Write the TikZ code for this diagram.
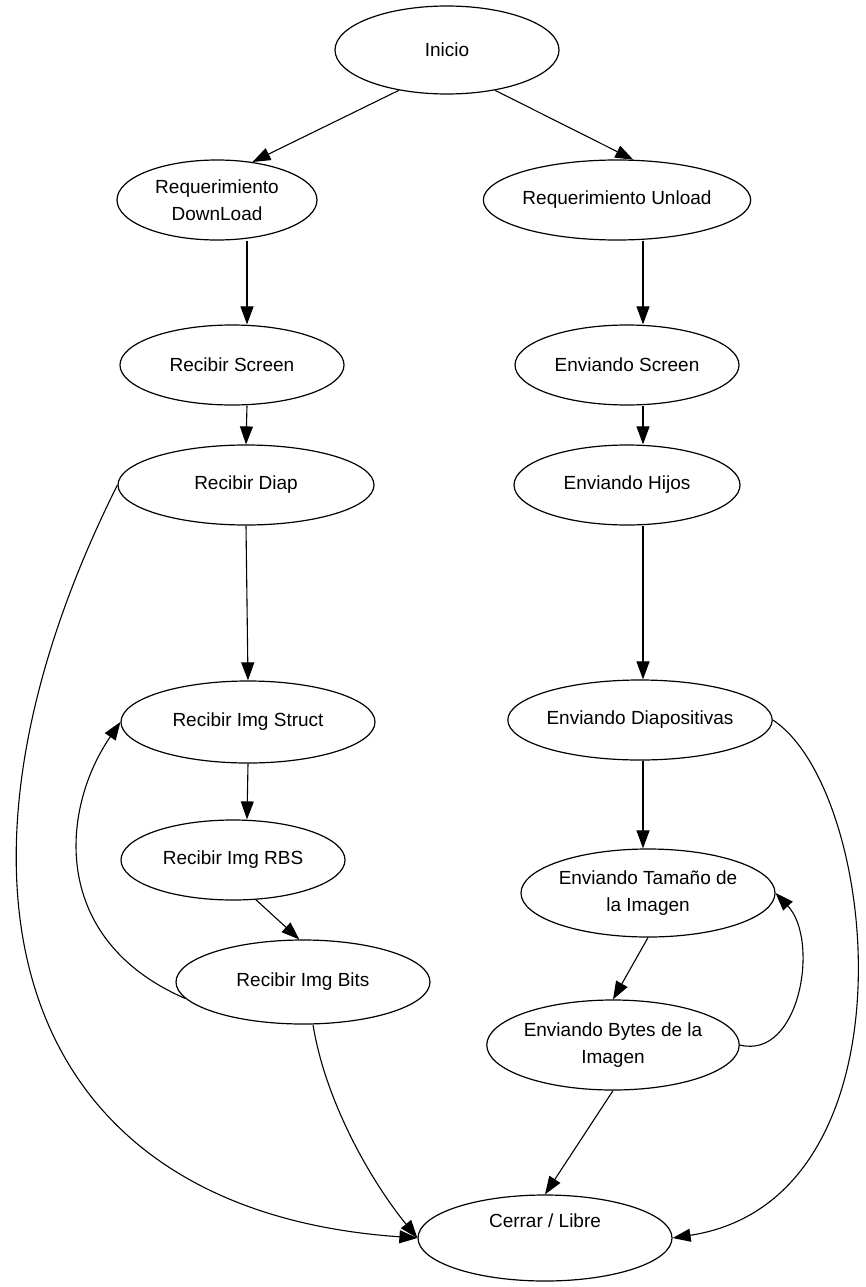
\documentclass[tikz,border=0pt]{standalone}
\usepackage{fontspec}
\setmainfont{Liberation Sans}
\usetikzlibrary{shapes.geometric, arrows.meta}

\tikzset{
  estado/.style={ellipse, draw, line width=1.2pt, inner sep=0pt, align=center,
    font=\fontsize{19}{27}\selectfont},
  flecha/.style={-{Triangle[length=18pt,width=13pt]}, line width=1.1pt}
}

\begin{document}
\begin{tikzpicture}[x=1pt,y=-1pt]
    \useasboundingbox (0,0) rectangle (866,1287);
    \node[estado, minimum width=224, minimum height=88] (10) at (447,50) {Inicio};
    % left column
    \node[estado, minimum width=200, minimum height=80] (11) at (217,200) {Requerimiento\\DownLoad};
    \node[estado, minimum width=224, minimum height=80] (12) at (232,365) {Recibir Screen};
    \node[estado, minimum width=256, minimum height=80] (13) at (246,485) {Recibir Diap};
    \node[estado, minimum width=254, minimum height=82] (14) at (248,722) {Recibir Img Struct};
    \node[estado, minimum width=224, minimum height=80] (15) at (233,860) {Recibir Img RBS};
    \node[estado, minimum width=254, minimum height=84] (16) at (303,982) {Recibir Img Bits};
    % right column
    \node[estado, minimum width=206, minimum height=80] (21) at (617,200) {Requerimiento Unload};
    \node[estado, minimum width=224, minimum height=80] (22) at (627,365) {Enviando Screen};
    \node[estado, minimum width=226, minimum height=80] (23) at (627,485) {Enviando Hijos};
    \node[estado, minimum width=250, minimum height=80] (24) at (640,720) {Enviando Diapositivas};
    \node[estado, minimum width=254, minimum height=88] (25) at (648,893) {Enviando Tamaño de\\la Imagen};
    \node[estado, minimum width=252, minimum height=90] (26) at (613,1045) {Enviando Bytes de la\\Imagen};
    \node[estado, minimum width=254, minimum height=86] (30) at (545,1238) {Cerrar / Libre\\[8pt]};
    % from the start
    \draw[flecha] (10.-140) -- (11.47);
    \draw[flecha] (10.-40) -- (21.68);
    % left chain
    \draw[flecha] ([xshift=30pt]11.south) -- ([xshift=15pt]12.north);
    \draw[flecha] ([xshift=15pt]12.south) -- (13.north);
    \draw[flecha] (13.south) -- (14.north);
    \draw[flecha] (14.south) -- ([xshift=14pt]15.north);
    \draw[flecha] (15.-60) -- (16.95);
    % right chain
    \draw[flecha] ([xshift=26pt]21.south) -- ([xshift=16pt]22.north);
    \draw[flecha] ([xshift=16pt]22.south) -- ([xshift=16pt]23.north);
    \draw[flecha] ([xshift=16pt]23.south) -- ([xshift=3pt]24.north);
    \draw[flecha] ([xshift=3pt]24.south) -- ([xshift=-5pt]25.north);
    \draw[flecha] (25.south) -- (26.north);
    \draw[flecha] (26.south) -- (30.north);
    % loops
    \draw[flecha] (16.188) .. controls (50,940) and (60,810) .. (14.west);
    \draw[flecha] (26.east) .. controls (800,1060) and (820,940) .. (25.east);
    % to the end
    \draw[flecha] (13.west) .. controls (-80,880) and (10,1210) .. (30.west);
    \draw[flecha] ([xshift=10pt]16.south) .. controls (325,1100) and (370,1180) .. (30.west);
    \draw[flecha] (24.east) .. controls (880,790) and (920,1200) .. (30.east);
\end{tikzpicture}
\end{document}
